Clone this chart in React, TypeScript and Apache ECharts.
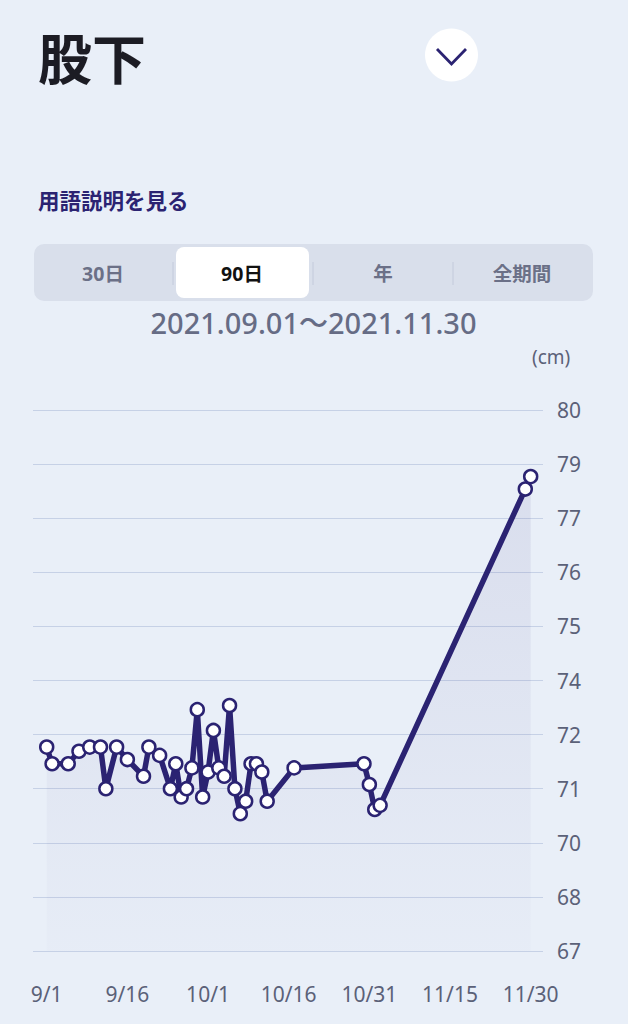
import React, { useEffect, useRef } from 'react';
import * as echarts from 'echarts';

// measurement dates and values (cm)
const dates = [
  '2021-09-01', '2021-09-02', '2021-09-05', '2021-09-07', '2021-09-09', '2021-09-11',
  '2021-09-12', '2021-09-14', '2021-09-16', '2021-09-19', '2021-09-20', '2021-09-22',
  '2021-09-24', '2021-09-25', '2021-09-26', '2021-09-27', '2021-09-28', '2021-09-29',
  '2021-09-30', '2021-10-01', '2021-10-02', '2021-10-03', '2021-10-04', '2021-10-05',
  '2021-10-06', '2021-10-07', '2021-10-08', '2021-10-09', '2021-10-10', '2021-10-11',
  '2021-10-12', '2021-10-17', '2021-10-30', '2021-10-31', '2021-11-01', '2021-11-02',
  '2021-11-29', '2021-11-30'
];
const values = [
  71.9, 71.5, 71.5, 71.8, 71.9, 71.9, 70.9, 71.9, 71.6, 71.2, 71.9, 71.7,
  70.9, 71.5, 70.7, 70.9, 71.4, 72.8, 70.7, 71.3, 72.3, 71.4, 71.2, 72.9,
  70.9, 70.3, 70.6, 71.5, 71.5, 71.3, 70.6, 71.4, 71.5, 71.0, 70.4, 70.5,
  78.1, 78.4
];
const xTickDates = ['2021-09-01', '2021-09-16', '2021-10-01', '2021-10-16', '2021-10-31', '2021-11-15', '2021-11-30'];
const periodTabs = ['30日', '90日', '年', '全期間'];
const selectedTab = 1;
const rangeLabel = '2021.09.01～2021.11.30';

const NAVY = '#2b2372';
const BG = '#e9eff8';
const FONT = '"Noto Sans", "Noto Sans CJK JP", sans-serif';
const DAY = 24 * 3600 * 1000;

const toDate = (s: string) => {
  const [y, m, d] = s.split('-').map(Number);
  return new Date(y, m - 1, d);
};
const start = toDate(dates[0]);
// day index counted from the first date
const toDay = (s: string) => Math.round((toDate(s).getTime() - start.getTime()) / DAY);

export default function App() {
  const chartRef = useRef<HTMLDivElement>(null);

  useEffect(() => {
    document.body.style.margin = '0';
    document.body.style.background = BG;
    if (!chartRef.current) return;
    const chart = echarts.init(chartRef.current, undefined, { renderer: 'svg' });

    const tabX = [103, 242, 383, 522];
    const lastDay = toDay(dates[dates.length - 1]);

    const option: echarts.EChartsOption = {
      animation: false,
      backgroundColor: BG,
      textStyle: { fontFamily: FONT },
      grid: { left: 33, right: 85, top: 410, bottom: 73 },
      xAxis: {
        type: 'value',
        min: -2.55,
        max: lastDay + 2.29,
        axisLine: { show: false },
        axisTick: { show: false },
        splitLine: { show: false },
        axisLabel: {
          customValues: xTickDates.map(toDay),
          margin: 32,
          fontSize: 21,
          color: '#5b6178',
          fontFamily: FONT,
          formatter: (v: number) => {
            const d = new Date(start.getFullYear(), start.getMonth(), start.getDate() + Math.round(v));
            return `${d.getMonth() + 1}/${d.getDate()}`;
          }
        } as any
      },
      yAxis: {
        type: 'value',
        position: 'right',
        min: 67,
        max: 80,
        interval: 1.3,
        axisLine: { show: false },
        axisTick: { show: false },
        splitLine: { lineStyle: { color: '#c6d1e6', width: 1 } },
        axisLabel: {
          margin: 14,
          fontSize: 21,
          color: '#5b6178',
          fontFamily: FONT,
          formatter: (v: number) => String(Math.round(v))
        }
      },
      series: [{
        type: 'line',
        data: dates.map((d, i) => [toDay(d), values[i]]),
        symbol: 'circle',
        symbolSize: 13,
        lineStyle: { color: NAVY, width: 5.5 },
        itemStyle: { color: '#ffffff', borderColor: NAVY, borderWidth: 2.5 },
        areaStyle: {
          origin: 'start',
          color: new echarts.graphic.LinearGradient(0, 0, 0, 1, [
            { offset: 0, color: 'rgba(60,50,130,0.13)' },
            { offset: 1, color: 'rgba(60,50,130,0.02)' }
          ])
        },
        z: 3
      }],
      graphic: [
        {
          type: 'text', x: 38, y: 56,
          style: {
            text: '股下', fill: '#1c1c24', fontSize: 54, fontWeight: 'bold',
            fontFamily: '"Noto Sans CJK JP", sans-serif',
            textVerticalAlign: 'middle', verticalAlign: 'middle'
          } as any
        },
        { type: 'circle', shape: { cx: 451.5, cy: 55, r: 26.5 }, style: { fill: '#ffffff' } },
        {
          type: 'polyline',
          shape: { points: [[437, 49], [451.5, 64], [466, 49]] },
          style: { stroke: NAVY, lineWidth: 2.8, fill: 'none' }
        },
        {
          type: 'text', x: 38, y: 199,
          style: {
            text: '用語説明を見る', fill: NAVY, fontSize: 21.5, fontWeight: 'bold',
            fontFamily: '"Noto Sans CJK JP", sans-serif',
            textVerticalAlign: 'middle', verticalAlign: 'middle'
          } as any
        },
        { type: 'rect', shape: { x: 34, y: 244, width: 559, height: 57, r: 10 }, style: { fill: '#d9dfeb' } },
        { type: 'rect', shape: { x: 176, y: 247, width: 133, height: 51, r: 8 }, style: { fill: '#ffffff' } },
        ...[173, 313, 453].map(x => ({
          type: 'line',
          shape: { x1: x, y1: 262, x2: x, y2: 285 },
          style: { stroke: '#c3cadb', lineWidth: 1 }
        })),
        ...periodTabs.map((t, i) => ({
          type: 'text', x: tabX[i], y: 273,
          style: {
            text: t,
            fill: i === selectedTab ? '#111111' : '#6b7087',
            fontSize: 19.5,
            fontWeight: 'bold',
            fontFamily: FONT,
            textAlign: 'center', align: 'center',
            textVerticalAlign: 'middle', verticalAlign: 'middle'
          } as any
        })),
        {
          type: 'text', x: 313.5, y: 322,
          style: {
            text: rangeLabel, fill: '#666c85', fontSize: 29, fontWeight: 500,
            fontFamily: FONT,
            textAlign: 'center', align: 'center',
            textVerticalAlign: 'middle', verticalAlign: 'middle'
          } as any
        },
        {
          type: 'text', x: 532, y: 357,
          style: {
            text: '(cm)', fill: '#5b6178', fontSize: 19,
            fontFamily: FONT,
            textVerticalAlign: 'middle', verticalAlign: 'middle'
          } as any
        }
      ] as any
    };

    chart.setOption(option);
    return () => chart.dispose();
  }, []);

  return <div ref={chartRef} style={{ width: 628, height: 1024 }} />;
}
